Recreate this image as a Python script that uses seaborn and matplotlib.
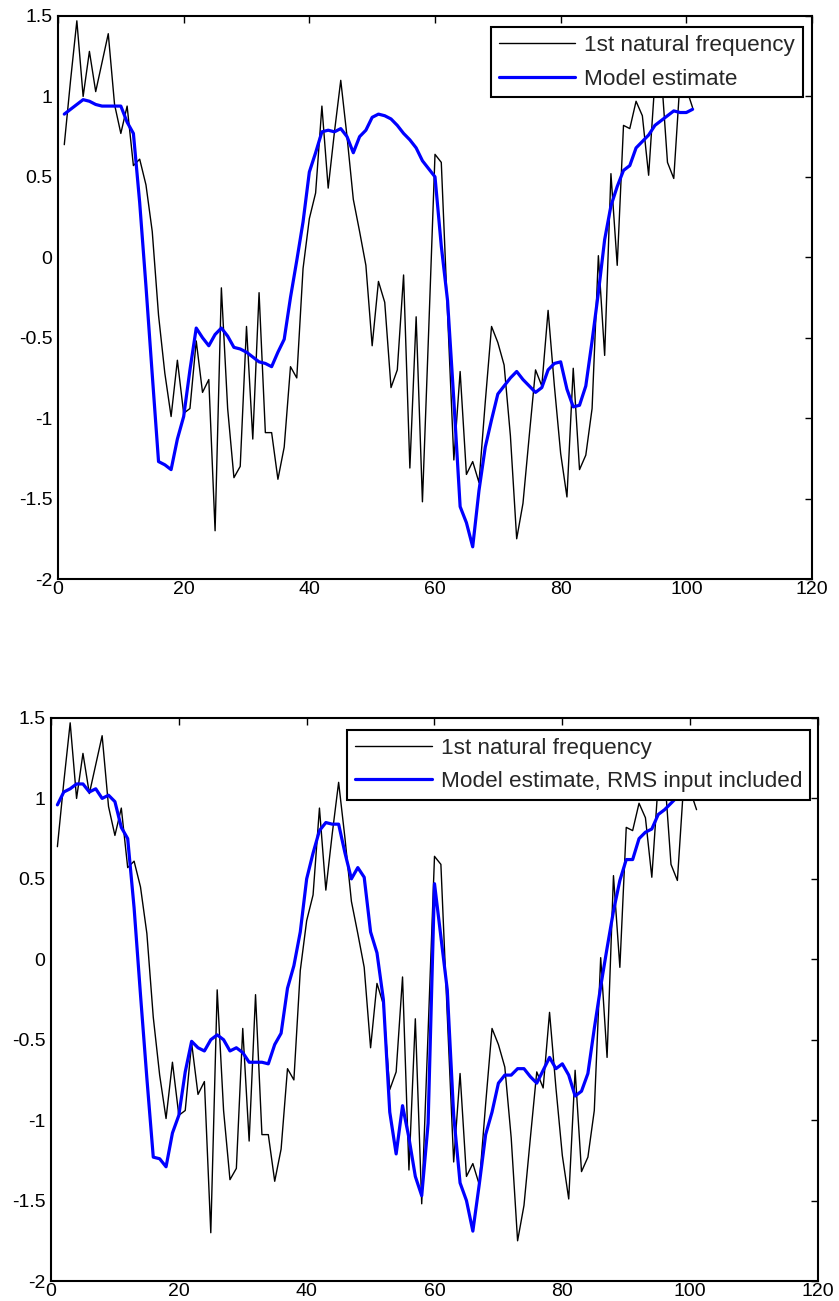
import numpy as np
import pandas as pd
import matplotlib
matplotlib.use("Agg")
import matplotlib.pyplot as plt
import seaborn as sns

# ---------------- data ----------------
sample = list(range(1, 102))

natural_freq = [
    0.70, 1.10, 1.47, 1.00, 1.28, 1.03, 1.21, 1.39, 0.95, 0.77,
    0.94, 0.57, 0.61, 0.45, 0.16, -0.36, -0.72, -0.99, -0.64, -0.97,
    -0.94, -0.52, -0.84, -0.76, -1.70, -0.19, -0.94, -1.37, -1.30, -0.43,
    -1.13, -0.22, -1.09, -1.09, -1.38, -1.18, -0.68, -0.75, -0.07, 0.24,
    0.40, 0.94, 0.43, 0.78, 1.10, 0.75, 0.36, 0.16, -0.05, -0.55,
    -0.15, -0.28, -0.81, -0.70, -0.11, -1.31, -0.37, -1.52, -0.45, 0.64,
    0.59, -0.35, -1.26, -0.71, -1.35, -1.27, -1.40, -0.90, -0.43, -0.53,
    -0.67, -1.11, -1.75, -1.53, -1.11, -0.70, -0.80, -0.33, -0.80, -1.22,
    -1.49, -0.69, -1.32, -1.23, -0.94, 0.01, -0.61, 0.52, -0.05, 0.82,
    0.80, 0.97, 0.88, 0.51, 1.10, 1.15, 0.59, 0.49, 1.10, 1.05,
    0.93,
]

model_estimate = [
    0.89, 0.92, 0.95, 0.98, 0.97, 0.95, 0.94, 0.94, 0.94, 0.94,
    0.84, 0.77, 0.34, -0.18, -0.73, -1.27, -1.29, -1.32, -1.13, -0.99,
    -0.70, -0.44, -0.50, -0.55, -0.48, -0.44, -0.49, -0.56, -0.57, -0.59,
    -0.62, -0.65, -0.66, -0.68, -0.59, -0.51, -0.25, -0.02, 0.22, 0.53,
    0.65, 0.78, 0.79, 0.78, 0.80, 0.75, 0.65, 0.75, 0.79, 0.87,
    0.89, 0.88, 0.86, 0.82, 0.77, 0.73, 0.68, 0.60, 0.55, 0.50,
    0.07, -0.27, -0.89, -1.55, -1.65, -1.80, -1.45, -1.18, -1.01, -0.85,
    -0.80, -0.75, -0.71, -0.76, -0.80, -0.84, -0.81, -0.70, -0.66, -0.65,
    -0.82, -0.93, -0.92, -0.80, -0.52, -0.22, 0.11, 0.32, 0.44, 0.54,
    0.57, 0.68, 0.72, 0.76, 0.82, 0.85, 0.88, 0.91, 0.90, 0.90,
    0.92,
]

model_estimate_rms = [
    0.96, 1.04, 1.06, 1.09, 1.09, 1.04, 1.06, 1.00, 1.02, 0.98,
    0.82, 0.75, 0.32, -0.22, -0.74, -1.23, -1.24, -1.29, -1.08, -0.97,
    -0.70, -0.51, -0.55, -0.57, -0.50, -0.47, -0.50, -0.57, -0.55, -0.58,
    -0.64, -0.64, -0.64, -0.65, -0.53, -0.46, -0.18, -0.04, 0.17, 0.50,
    0.66, 0.80, 0.85, 0.84, 0.84, 0.66, 0.50, 0.57, 0.51, 0.17,
    0.04, -0.25, -0.95, -1.21, -0.91, -1.11, -1.35, -1.47, -1.02, 0.47,
    0.14, -0.19, -0.97, -1.39, -1.50, -1.69, -1.40, -1.09, -0.95, -0.77,
    -0.72, -0.72, -0.68, -0.68, -0.73, -0.77, -0.69, -0.61, -0.68, -0.65,
    -0.72, -0.85, -0.82, -0.71, -0.43, -0.17, 0.07, 0.30, 0.49, 0.62,
    0.62, 0.75, 0.79, 0.81, 0.90, 0.93, 0.97, 1.01, 1.03, 1.04,
    1.05,
]

x_ticks = [0, 20, 40, 60, 80, 100, 120]
x_tick_labels = ["0", "20", "40", "60", "80", "100", "120"]
y_ticks = [-2, -1.5, -1, -0.5, 0, 0.5, 1, 1.5]
y_tick_labels = ["-2", "-1.5", "-1", "-0.5", "0", "0.5", "1", "1.5"]

label_meas = "1st natural frequency"
label_top = "Model estimate"
label_bottom = "Model estimate, RMS input included"

# ---------------- style ----------------
sns.set_style("white")
plt.rcParams["font.family"] = ["Liberation Sans", "DejaVu Sans"]
plt.rcParams["axes.unicode_minus"] = False

W, H = 839, 1301
fig = plt.figure(figsize=(W / 100, H / 100), dpi=100)
fig.patch.set_facecolor("white")


def add_ax(l, r, t, b):
    return fig.add_axes([l / W, 1 - b / H, (r - l) / W, (b - t) / H])


ax1 = add_ax(58, 812, 16, 579)
ax2 = add_ax(51, 818, 718, 1281)

df = pd.DataFrame({
    "sample": sample,
    "meas": natural_freq,
    "est": model_estimate,
    "est_rms": model_estimate_rms,
})


def style_axes(ax):
    ax.set_xlim(0, 120)
    ax.set_ylim(-2, 1.5)
    ax.set_xticks(x_ticks)
    ax.set_xticklabels(x_tick_labels)
    ax.set_yticks(y_ticks)
    ax.set_yticklabels(y_tick_labels)
    ax.set_xlabel("")
    ax.set_ylabel("")
    ax.tick_params(direction="in", top=True, right=True, length=5, width=1,
                   labelsize=14, colors="black")
    ax.tick_params(axis="x", pad=1.5)
    ax.tick_params(axis="y", pad=4)
    for sp in ax.spines.values():
        sp.set_visible(True)
        sp.set_color("black")
        sp.set_linewidth(1.5)


def draw(ax, est_col, est_label, anchor):
    sns.lineplot(data=df, x="sample", y="meas", ax=ax, color="black",
                 linewidth=1.0, label=label_meas, estimator=None, sort=False)
    sns.lineplot(data=df, x="sample", y=est_col, ax=ax, color="#0000FF",
                 linewidth=2.3, label=est_label, estimator=None, sort=False)
    style_axes(ax)
    leg = ax.legend(loc="upper right", bbox_to_anchor=anchor, borderaxespad=0,
                    fancybox=False, framealpha=1, edgecolor="black",
                    fontsize=16.2, handlelength=3.4, handletextpad=0.4,
                    labelspacing=0.55, borderpad=0.35)
    leg.get_frame().set_linewidth(1.5)
    leg.set_zorder(10)


draw(ax1, "est", label_top, (0.988, 0.980))
draw(ax2, "est_rms", label_bottom, (0.9896, 0.9787))

fig.savefig("out.png", dpi=100, facecolor="white")
